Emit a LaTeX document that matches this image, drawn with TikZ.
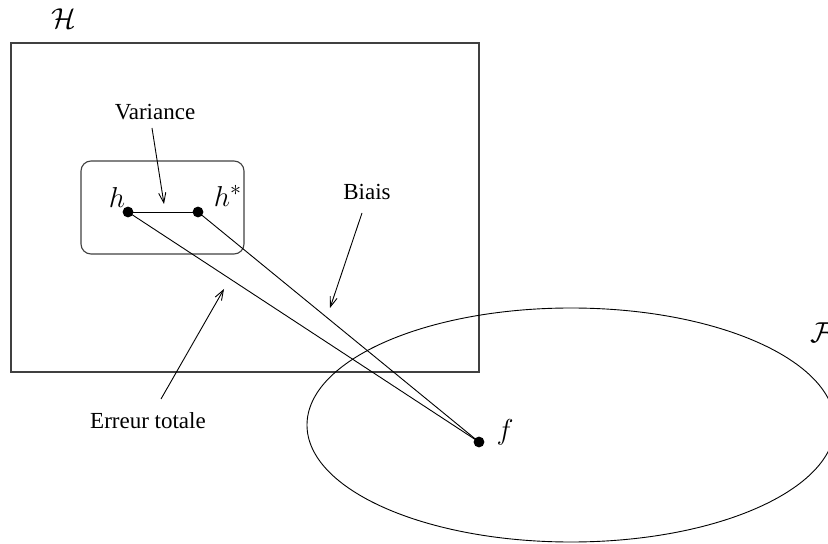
\documentclass[tikz,border=0pt]{standalone}
\usepackage{fontspec}
\setmainfont{Liberation Serif}
\usetikzlibrary{arrows.meta}
\begin{document}
\begin{tikzpicture}[x=0.5pt,y=-0.5pt,
  frame/.style={draw=black!75,line width=0.55pt},
  conn/.style={draw,line width=0.45pt},
  pointer/.style={draw,line width=0.45pt,-{Straight Barb[length=5pt,width=3.6pt]}},
  dot/.style={circle,fill=black,inner sep=0pt,minimum size=5.4pt},
  lbl/.style={inner sep=0pt,font=\fontsize{11.5}{13}\selectfont},
  mlbl/.style={inner sep=0pt,font=\fontsize{15}{17}\selectfont}]
\useasboundingbox (0,0) rectangle (828,544);
% sets
\draw[frame] (11,43) rectangle (479,372);
\draw[frame,rounded corners=5pt] (81,161) rectangle (244,254);
\draw[conn] (571,425) ellipse [x radius=264, y radius=117];
\node[mlbl] (H) at (64,19) {$\mathcal{H}$};
\node[mlbl] (F) at (822,333) {$\mathcal{F}$};
% points
\node[dot] (h) at (128,212) {};
\node[dot] (hs) at (198,212) {};
\node[dot] (f) at (479,442) {};
\node[mlbl] (hl) at (117,198) {$h$};
\node[mlbl] (hsl) at (228,196) {$h^{*}$};
\node[mlbl] (fl) at (505,432) {$f$};
\draw[conn] (h.center) -- (hs.center);
\draw[conn] (h.center) -- (f.center);
\draw[conn] (hs.center) -- (f.center);
% labels
\node[lbl] (var) at (155,112) {Variance};
\node[lbl] (bia) at (367,192) {Biais};
\node[lbl] (err) at (148,421) {Erreur totale};
\coordinate (varS) at (152,128);
\coordinate (varE) at (164,204);
\coordinate (biaS) at (362,213);
\coordinate (biaE) at (330,308);
\coordinate (errS) at (161,399);
\coordinate (errE) at (224,289);
\draw[pointer] (varS) -- (varE);
\draw[pointer] (biaS) -- (biaE);
\draw[pointer] (errS) -- (errE);
\end{tikzpicture}
\end{document}
